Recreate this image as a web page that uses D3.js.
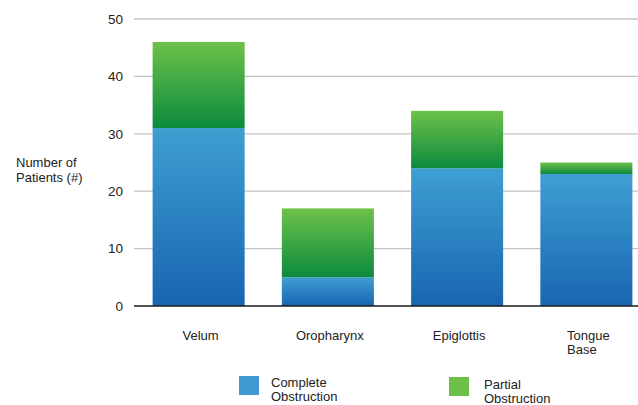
<!DOCTYPE html>
<html><head><meta charset="utf-8">
<script src="https://cdn.jsdelivr.net/npm/d3@7"></script>
<style>body{margin:0;background:#fff}svg{display:block;font-family:"Liberation Sans",Arial,Helvetica,sans-serif}</style>
</head><body>
<svg id="c" width="638" height="405"></svg>
<script>
const categories = [["Velum"], ["Oropharynx"], ["Epiglottis"], ["Tongue", "Base"]];
const complete = [31, 5, 24, 23];
const partial = [15, 12, 10, 2];
const yTicks = [0, 10, 20, 30, 40, 50];
const seriesNames = [["Complete", "Obstruction"], ["Partial", "Obstruction"]];
const yLabel = ["Number of", "Patients (#)"];

const svg = d3.select("#c");
const defs = svg.append("defs");
function grad(id, top, bottom) {
  const g = defs.append("linearGradient").attr("id", id).attr("x1", 0).attr("y1", 0).attr("x2", 0).attr("y2", 1);
  g.append("stop").attr("offset", "0%").attr("stop-color", top);
  g.append("stop").attr("offset", "100%").attr("stop-color", bottom);
}
grad("gBlue", "#3f9fd2", "#1865b0");
grad("gGreen", "#6dc149", "#0c8a3e");

const keys = categories.map(c => c.join(" "));
const x = d3.scaleBand().domain(keys).range([134, 651]).paddingInner(0.288).paddingOuter(0.144);
const y = d3.scaleLinear().domain([0, 50]).range([306, 19]);

// gridlines
svg.append("g").selectAll("line").data(yTicks.filter(t => t > 0)).join("line")
  .attr("x1", 134).attr("x2", 638).attr("y1", d => y(d)).attr("y2", d => y(d))
  .attr("stroke", "#c4c4c4").attr("stroke-width", 1.3);

// y axis labels
const yAxis = d3.axisLeft(y).tickValues(yTicks).tickSize(0).tickPadding(11);
const ga = svg.append("g").attr("transform", "translate(134,0)").call(yAxis);
ga.select(".domain").remove();
ga.selectAll("text").attr("font-size", 13.5).attr("fill", "#222").attr("font-family", "Liberation Sans, Arial, sans-serif");

// bars
const stackData = keys.map((k, i) => ({ k, c: complete[i], p: partial[i] }));
const bars = svg.append("g");
bars.selectAll("rect.c").data(stackData).join("rect").attr("class", "c")
  .attr("x", d => x(d.k)).attr("width", x.bandwidth())
  .attr("y", d => y(d.c)).attr("height", d => y(0) - y(d.c))
  .attr("fill", "url(#gBlue)");
bars.selectAll("rect.p").data(stackData).join("rect").attr("class", "p")
  .attr("x", d => x(d.k)).attr("width", x.bandwidth())
  .attr("y", d => y(d.c + d.p)).attr("height", d => y(d.c) - y(d.c + d.p))
  .attr("fill", "url(#gGreen)");

// baseline
svg.append("line").attr("x1", 134).attr("x2", 638).attr("y1", y(0)).attr("y2", y(0))
  .attr("stroke", "#1a1a1a").attr("stroke-width", 1.6);

// category labels
categories.forEach((lines, i) => {
  const cx = x(keys[i]) + x.bandwidth() / 2 + 2;
  const t = svg.append("text").attr("font-size", 13).attr("fill", "#222");
  lines.forEach((l, j) => t.append("tspan").attr("y", 340 + j * 14).text(l));
  let maxW = 0;
  t.selectAll("tspan").each(function () { maxW = Math.max(maxW, this.getComputedTextLength()); });
  t.selectAll("tspan").attr("x", cx - maxW / 2);
});

// y label
const yl = svg.append("text").attr("font-size", 13).attr("fill", "#222");
yLabel.forEach((l, j) => yl.append("tspan").attr("x", 16).attr("y", 167 + j * 15).text(l));

// legend
const legendColors = ["#3d99d0", "#6cbf47"];
const legendPos = [[239, 376], [449, 377]];
seriesNames.forEach((lines, i) => {
  const [lx, ly] = legendPos[i];
  svg.append("rect").attr("x", lx).attr("y", ly).attr("width", 20).attr("height", 19).attr("fill", legendColors[i]);
  const t = svg.append("text").attr("font-size", 13).attr("fill", "#222");
  lines.forEach((l, j) => t.append("tspan").attr("x", lx + 32 + (i === 1 ? 3 : 0)).attr("y", ly + 11 + (i === 1 ? 1 : 0) + j * 14).text(l));
});
</script>
</body></html>
